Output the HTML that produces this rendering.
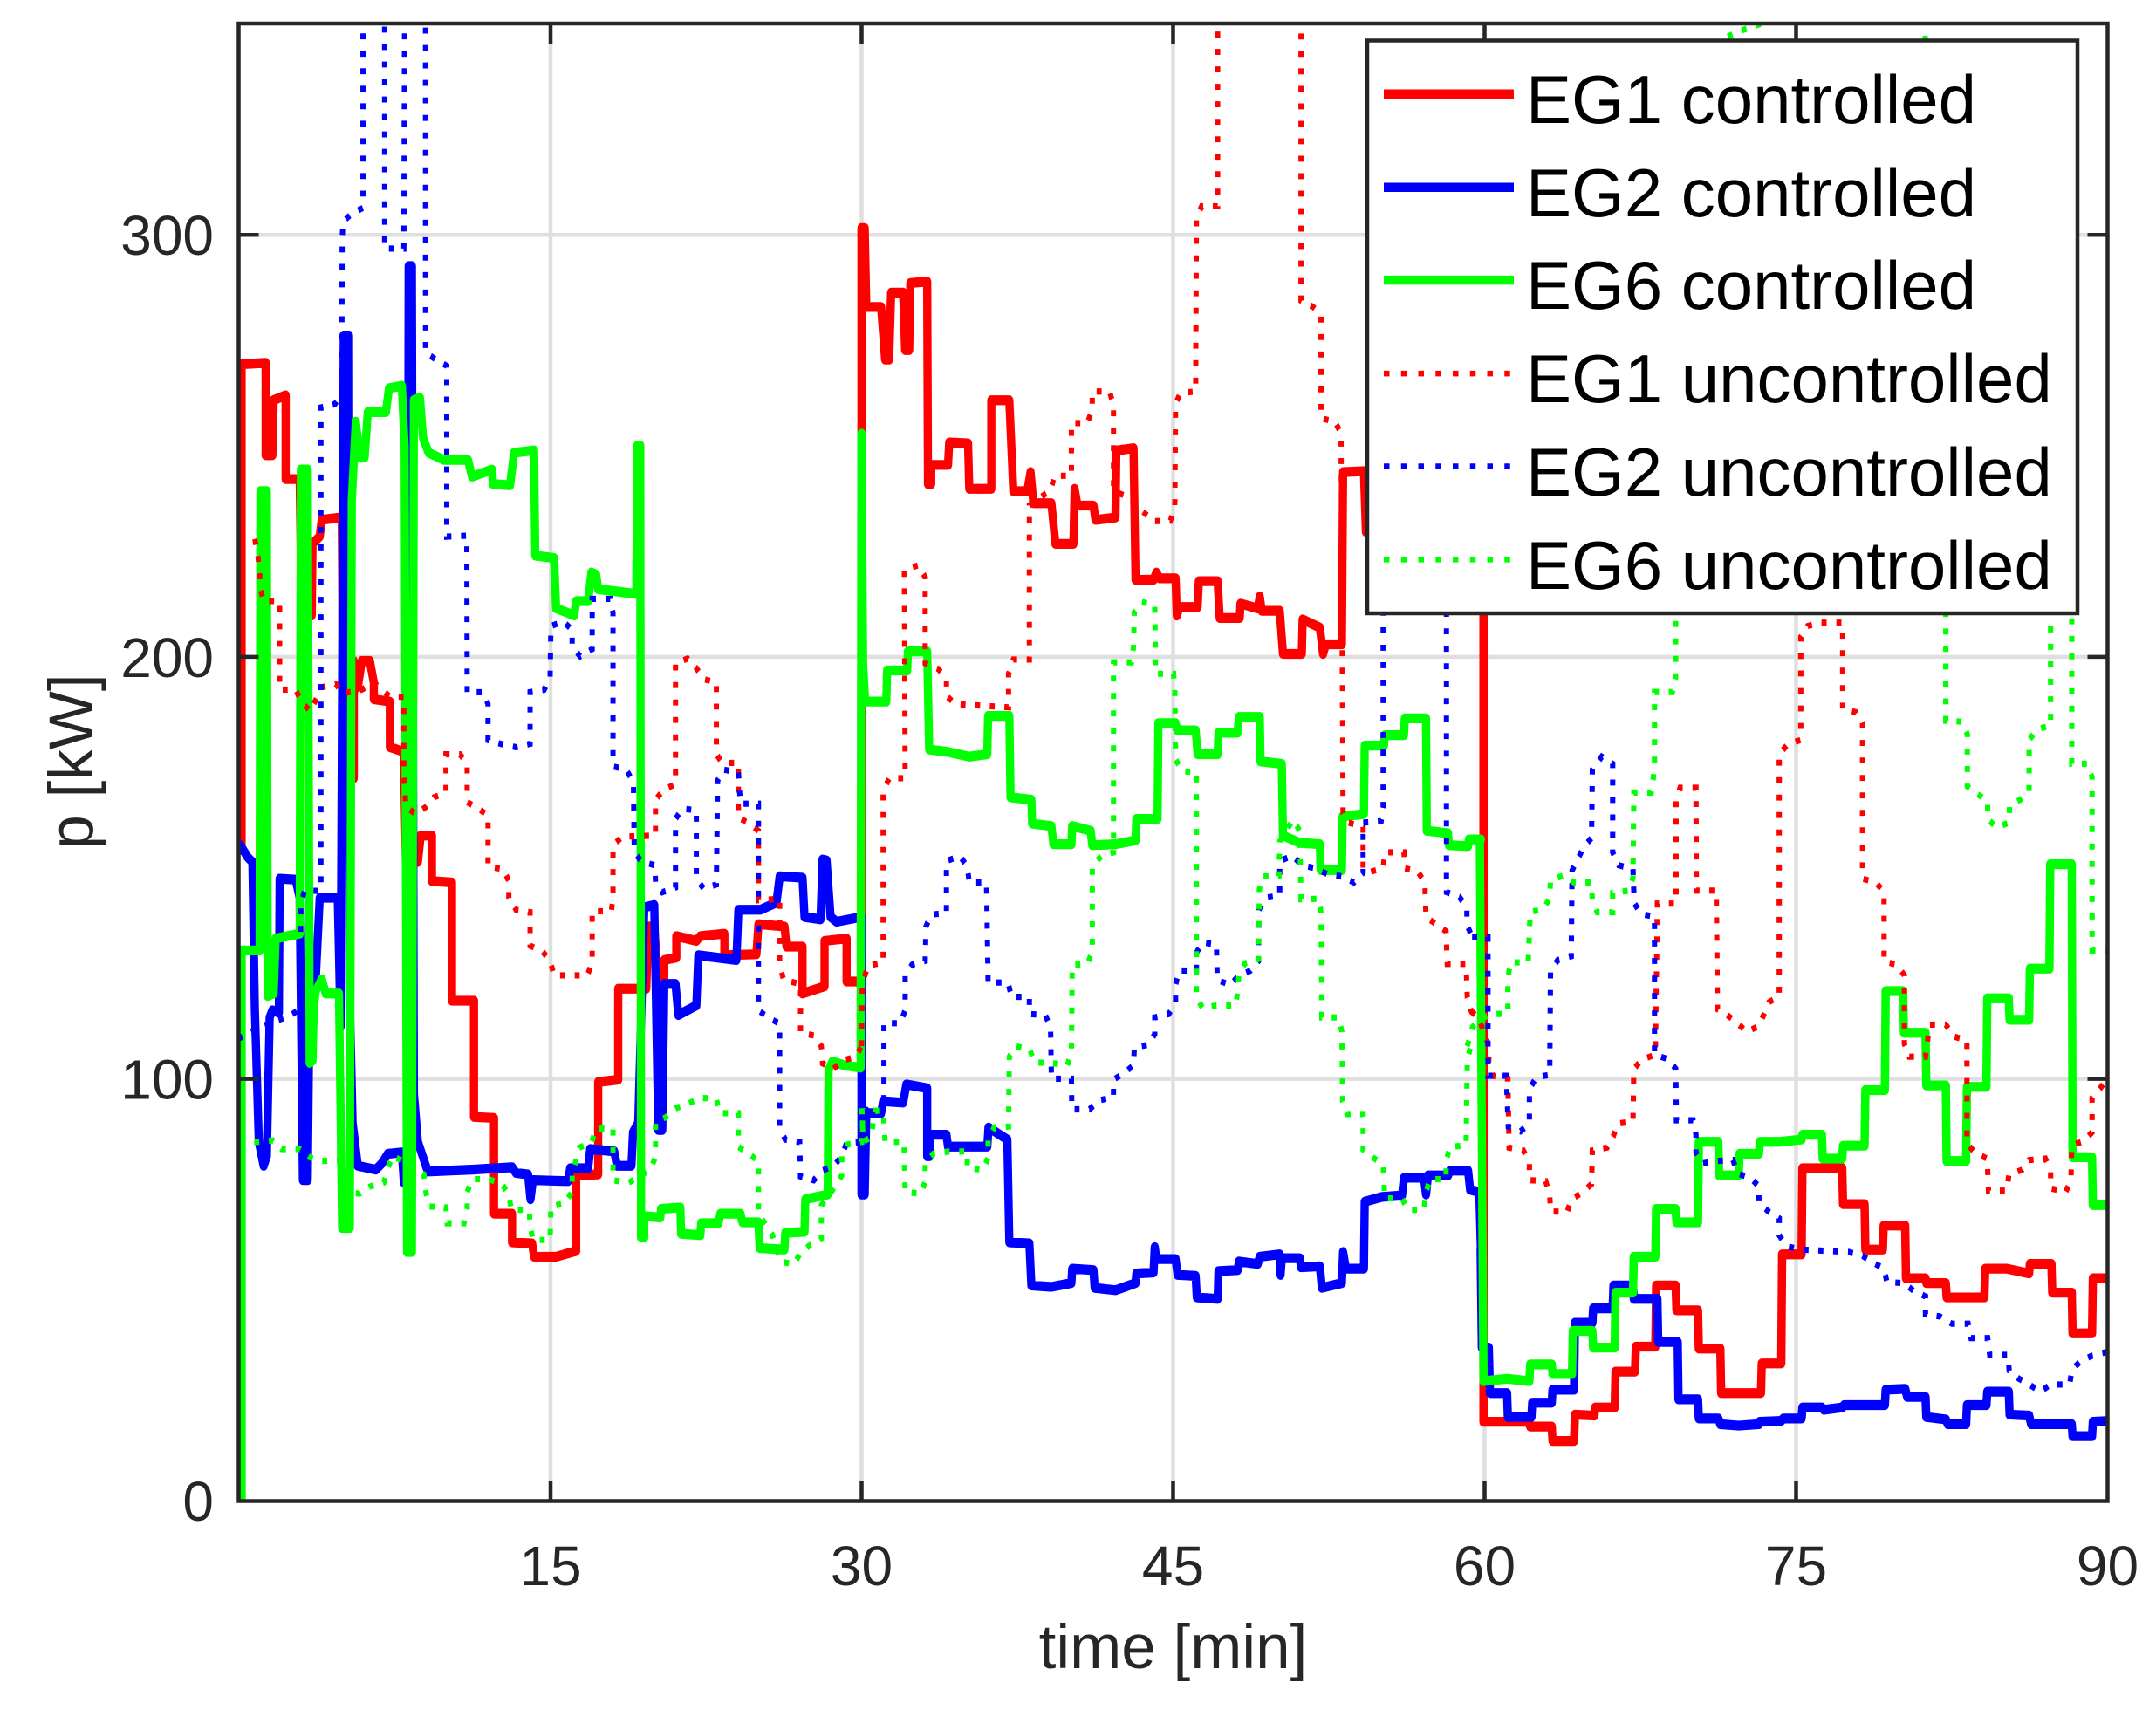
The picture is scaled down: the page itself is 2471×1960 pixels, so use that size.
<!DOCTYPE html>
<html><head><meta charset="utf-8"><style>
html,body{margin:0;padding:0;background:#fff;}
svg{display:block;}
text{font-family:"Liberation Sans",Arial,Helvetica,sans-serif;}
</style></head><body>
<svg xmlns="http://www.w3.org/2000/svg" width="2471" height="1960" viewBox="0 0 2471 1960">
<rect width="2471" height="1960" fill="#fff"/>
<defs><clipPath id="c"><rect x="273.5" y="27" width="2142" height="1693.5"/></clipPath></defs>
<g stroke="#dfdfdf" stroke-width="4.5">
<line x1="631" y1="27" x2="631" y2="1720"/>
<line x1="987.5" y1="27" x2="987.5" y2="1720"/>
<line x1="1344.5" y1="27" x2="1344.5" y2="1720"/>
<line x1="1701.5" y1="27" x2="1701.5" y2="1720"/>
<line x1="2058.5" y1="27" x2="2058.5" y2="1720"/>
<line x1="273.5" y1="1236.6" x2="2415.5" y2="1236.6"/>
<line x1="273.5" y1="752.9" x2="2415.5" y2="752.9"/>
<line x1="273.5" y1="269.2" x2="2415.5" y2="269.2"/>
</g>
<g clip-path="url(#c)" fill="none">
<!-- EG1 controlled -->
<g stroke="#ff0000" stroke-width="20.5" stroke-linejoin="round" stroke-linecap="round">
<path transform="translate(270,870) scale(0.4592,0.5485)" d="M15,190 L15,-825 L75,-828 L75,-635 L92,-635 L95,-750 L125,-760 L125,-585 L160,-585 L165,-300 L190,-300 L192,-450 L210,-465 L215,-500 L265,-505 L270,40 L295,40 L295,-205 L305,-150 L315,-205 L335,-205 L345,-160 L345,-125 L385,-120 L385,-25 L420,-15 L425,210 L455,215 L462,160 L490,160 L490,255 L540,258 L540,505 L595,505 L595,748 L645,750 L645,950 L690,950 L690,1010 L740,1012 L745,1040 L800,1040 L850,1028 L850,870 L905,868 L905,675 L955,670 L955,480 L1025,480 L1030,350 L1045,350 L1055,470 L1070,470 L1070,420 L1100,415 L1100,370 L1150,380 L1160,370 L1220,365 L1220,410 L1300,408 L1305,345 L1370,350 L1375,392 L1415,392 L1415,490 L1470,475 L1470,380 L1525,375 L1525,465 L1562,465"/>
<path transform="translate(980,20) scale(0.4592,0.5485)" d="M16,2015 L16,440 L24,440 L28,605 L65,605 L75,715 L85,715 L90,575 L120,575 L125,695 L135,695 L138,555 L180,552 L182,975 L190,975 L190,935 L232,935 L235,888 L282,890 L285,985 L340,985 L340,800 L385,800 L395,990 L430,990 L438,950 L445,1015 L490,1015 L500,1100 L545,1100 L548,985 L555,1020 L595,1020 L600,1050 L650,1045 L652,905 L695,900 L700,1175 L745,1175 L752,1160 L760,1172 L800,1172 L803,1250 L810,1232 L855,1232 L858,1178 L905,1178 L910,1255 L960,1255 L962,1225 L1005,1235 L1010,1210 L1015,1240 L1060,1240 L1068,1330 L1115,1330 L1117,1258 L1160,1275 L1168,1330 L1175,1310 L1215,1310 L1218,950 L1270,948 L1275,1075 L1320,1080"/>
<path transform="translate(1690,870) scale(0.4656,0.5485)" d="M22,-300 L22,1385 L135,1385 L137,1395 L190,1395 L192,1425 L245,1425 L247,1370 L295,1372 L297,1355 L345,1355 L347,1280 L395,1280 L397,1228 L445,1228 L447,1100 L495,1100 L497,1152 L550,1152 L552,1232 L605,1232 L607,1325 L705,1325 L707,1263 L755,1263 L757,1035 L805,1035 L807,855 L905,855 L907,930 L960,930 L962,1025 L1005,1025 L1007,975 L1060,975 L1062,1085 L1110,1085 L1112,1095 L1160,1095 L1162,1125 L1255,1125 L1257,1065 L1310,1065 L1365,1075 L1367,1055 L1420,1055 L1422,1115 L1470,1115 L1472,1200 L1520,1200 L1522,1085 L1565,1085"/>
</g>
<!-- EG2 controlled -->
<g stroke="#0000ff" stroke-width="20.5" stroke-linejoin="round" stroke-linecap="round">
<path transform="translate(270,870) scale(0.4592,0.5485)" d="M12,180 L30,205 L42,215 L48,520 L58,800 L70,850 L78,830 L85,540 L92,525 L108,530 L110,250 L150,252 L160,290 L168,880 L180,880 L185,470 L200,460 L210,290 L255,290 L262,560 L270,-885 L283,-885 L285,500 L292,760 L305,850 L350,858 L365,845 L380,825 L415,822 L420,885 L428,885 L432,-1030 L440,-1030 L445,700 L455,800 L475,850 L480,862 L590,858 L690,853 L700,865 L730,868 L736,920 L742,880 L830,882 L835,855 L880,855 L885,815 L945,820 L952,850 L988,850 L992,780 L1005,760 L1020,310 L1045,305 L1055,775 L1065,775 L1070,470 L1098,470 L1105,535 L1150,515 L1155,410 L1250,420 L1255,315 L1310,315 L1350,300 L1358,245 L1415,248 L1420,330 L1460,335 L1465,210 L1475,212 L1485,330 L1500,340 L1562,330 L1562,500"/>
<path transform="translate(980,870) scale(0.4592,0.5485)" d="M16,330 L16,910 L24,910 L28,740 L65,740 L70,715 L120,718 L128,680 L180,688 L180,830 L186,830 L188,785 L228,785 L232,810 L330,810 L333,770 L380,795 L385,1010 L435,1012 L440,1100 L490,1103 L540,1095 L542,1065 L595,1068 L598,1105 L650,1110 L700,1095 L702,1075 L745,1073 L748,1020 L752,1045 L800,1045 L805,1078 L850,1080 L853,1125 L905,1128 L907,1070 L955,1068 L958,1050 L1005,1055 L1010,1040 L1060,1035 L1062,1078 L1065,1043 L1110,1043 L1113,1062 L1160,1060 L1165,1105 L1215,1095 L1218,1030 L1225,1065 L1270,1065 L1272,925 L1315,915 L1365,912 L1370,875 L1420,875 L1425,910 L1430,870 L1480,870 L1485,860 L1530,860 L1535,900 L1558,905 L1562,1025"/>
<path transform="translate(1690,870) scale(0.4656,0.5485)" d="M15,1025 L18,1230 L35,1230 L38,1325 L80,1325 L82,1375 L140,1375 L142,1345 L190,1345 L192,1318 L245,1318 L247,1178 L290,1178 L292,1148 L340,1148 L342,1100 L390,1100 L392,1128 L450,1128 L452,1218 L500,1218 L502,1338 L550,1338 L552,1378 L600,1378 L605,1390 L650,1393 L700,1390 L702,1385 L755,1383 L760,1378 L805,1378 L807,1355 L855,1355 L860,1360 L905,1355 L910,1350 L1010,1350 L1012,1318 L1060,1316 L1065,1333 L1110,1333 L1112,1375 L1160,1380 L1165,1390 L1210,1390 L1212,1350 L1260,1350 L1262,1322 L1315,1322 L1317,1370 L1365,1372 L1370,1390 L1470,1390 L1472,1415 L1520,1415 L1522,1385 L1565,1383"/>
</g>
<!-- EG6 controlled -->
<g stroke="#00ff00" stroke-width="20.5" stroke-linejoin="round" stroke-linecap="round">
<path transform="translate(270,870) scale(0.4592,0.5485)" d="M15,1550 L15,400 L60,400 L62,-560 L78,-560 L80,495 L95,490 L100,375 L160,365 L163,-605 L180,-605 L185,635 L192,630 L195,520 L200,485 L215,460 L225,490 L258,490 L266,980 L285,980 L290,-540 L300,-705 L310,-630 L322,-630 L330,-725 L375,-725 L383,-775 L415,-780 L422,-650 L428,1030 L440,1030 L445,-750 L460,-755 L468,-670 L482,-640 L495,-635 L520,-625 L580,-625 L590,-590 L640,-605 L642,-575 L685,-572 L695,-640 L745,-645 L748,-425 L795,-420 L800,-315 L845,-300 L850,-330 L880,-330 L888,-390 L900,-385 L905,-355 L1000,-345 L1003,-655 L1010,-655 L1012,1000 L1020,1000 L1020,955 L1060,958 L1062,940 L1110,937 L1112,992 L1160,995 L1162,970 L1205,970 L1210,950 L1260,950 L1265,968 L1305,968 L1308,1022 L1370,1025 L1372,990 L1420,988 L1422,920 L1478,910 L1480,650 L1490,632 L1520,640 L1560,645 L1562,-680"/>
<path transform="translate(980,870) scale(0.4592,0.5485)" d="M16,-680 L20,-200 L25,-120 L78,-120 L80,-185 L130,-185 L132,-225 L180,-225 L185,-20 L230,-15 L285,-5 L330,-10 L332,-90 L385,-90 L388,80 L440,85 L442,135 L490,140 L495,178 L540,178 L542,140 L588,150 L592,180 L650,178 L700,170 L702,125 L755,125 L757,-75 L800,-75 L805,-60 L850,-60 L855,-10 L905,-10 L907,-55 L955,-55 L958,-88 L1010,-88 L1012,5 L1065,10 L1068,160 L1110,175 L1160,178 L1162,232 L1215,232 L1217,120 L1270,115 L1272,-28 L1320,-28 L1322,-50 L1370,-50 L1372,-85 L1425,-85 L1427,150 L1480,155 L1482,180 L1530,182 L1532,168 L1562,168"/>
<path transform="translate(1690,870) scale(0.4656,0.5485)" d="M13,168 L22,1300 L80,1295 L135,1300 L137,1265 L190,1265 L192,1285 L240,1285 L242,1195 L290,1195 L292,1230 L345,1230 L347,1115 L390,1115 L392,1040 L445,1040 L447,940 L495,940 L497,968 L550,968 L552,800 L600,800 L602,870 L650,870 L652,825 L700,825 L702,800 L750,800 L805,795 L807,785 L855,785 L857,835 L905,835 L907,808 L960,808 L962,692 L1010,692 L1012,485 L1055,485 L1057,572 L1110,572 L1112,682 L1160,682 L1162,840 L1210,840 L1212,685 L1260,685 L1262,500 L1315,500 L1317,545 L1365,545 L1367,438 L1415,438 L1417,220 L1470,220 L1472,832 L1520,832 L1522,932 L1565,932"/>
</g>
<!-- EG1 uncontrolled -->
<g stroke="#ff0000" stroke-width="13" stroke-dasharray="12.5 24" stroke-linejoin="miter">
<path transform="translate(270,870) scale(0.4592,0.5485)" d="M48,-460 L55,-430 L60,-390 L62,-355 L70,-330 L110,-330 L110,-145 L150,-145 L165,-118 L187,-100 L215,-150 L250,-157 L267,-137 L315,-145 L345,-160 L372,-140 L385,-130 L420,-130 L420,30 L425,100 L450,115 L475,100 L495,80 L525,70 L525,-10 L560,-10 L578,10 L578,90 L605,103 L630,118 L630,225 L668,230 L682,255 L682,290 L700,315 L735,320 L735,390 L766,402 L785,422 L795,452 L878,452 L890,425 L890,318 L938,318 L942,290 L942,180 L966,162 L1048,160 L1048,85 L1068,65 L1098,52 L1098,-200 L1128,-210 L1150,-190 L1168,-167 L1200,-160 L1200,-10 L1215,8 L1255,8 L1255,122 L1282,135 L1305,150 L1305,295 L1358,292 L1358,430 L1368,462 L1410,470 L1410,572 L1445,578 L1462,600 L1465,636 L1492,648 L1515,630 L1548,622 L1562,600"/>
<path transform="translate(980,870) scale(0.4592,0.5485)" d="M16,600 L18,470 L32,432 L70,425 L70,68 L85,40 L125,40 L123,-395 L158,-405 L175,-380 L175,-200 L208,-188 L228,-168 L228,-132 L250,-115 L383,-108 L383,-178 L395,-208 L435,-208 L435,-530 L488,-562 L498,-592 L540,-592 L540,-702 L580,-702 L592,-732 L592,-768 L635,-768 L645,-740 L645,-560 L675,-550 L745,-497 L787,-498 L798,-525 L800,-742 L812,-765 L850,-768 L852,-1130 L865,-1155 L905,-1155 L905,-1700 L1113,-1700 L1113,-958 L1143,-945 L1163,-928 L1163,-712 L1198,-705 L1213,-680 L1218,113 L1232,133 L1268,142 L1268,230 L1285,236 L1318,228 L1322,195 L1370,195 L1372,228 L1405,236 L1422,258 L1425,330 L1450,345 L1475,360 L1478,428 L1525,428 L1528,498 L1538,527 L1550,535"/>
<path transform="translate(1690,870) scale(0.4656,0.5485)" d="M-9,527 L10,540 L35,600 L35,635 L45,662 L82,668 L85,812 L120,818 L135,842 L135,880 L175,882 L185,910 L187,945 L228,947 L238,920 L265,906 L288,888 L290,818 L326,812 L342,787 L352,762 L390,757 L392,648 L412,628 L445,618 L450,302 L496,302 L496,85 L506,60 L545,60 L546,275 L595,275 L598,523 L625,537 L648,553 L670,570 L700,558 L725,508 L750,495 L750,-10 L770,-30 L803,-40 L803,-255 L820,-278 L852,-285 L906,-285 L906,-105 L938,-98 L955,-75 L955,250 L988,258 L1008,278 L1008,423 L1040,430 L1058,452 L1058,595 L1070,622 L1110,622 L1120,555 L1160,555 L1180,580 L1212,588 L1212,803 L1232,823 L1262,835 L1265,902 L1310,902 L1315,870 L1348,858 L1365,838 L1405,835 L1418,862 L1418,897 L1455,905 L1468,880 L1470,808 L1500,798 L1520,780 L1520,708 L1540,688 L1565,660"/>
</g>
<!-- EG2 uncontrolled -->
<g stroke="#0000ff" stroke-width="13" stroke-dasharray="12.5 24">
<path transform="translate(270,20) scale(0.4592,0.5485)" d="M5,2132 L12,2132 L60,2110 L138,2085 L160,2072 L163,1853 L172,1825 L213,1825 L213,815 L248,808 L265,785 L266,463 L268,427 L290,410 L318,398 L318,-50 L372,-50 L372,483 L420,483 L422,-50 L474,-50 L474,700 L500,715 L527,728 L527,1085 L577,1083 L578,1410 L618,1410 L630,1435 L630,1510 L662,1518 L700,1525 L735,1518 L735,1410 L770,1405 L785,1380 L787,1272 L818,1262 L840,1280 L840,1315 L860,1335 L890,1320 L890,1215 L935,1215 L942,1245 L942,1565 L975,1572 L993,1598 L995,1743 L1012,1763 L1047,1772 L1048,1807 L1065,1828 L1098,1818 L1098,1675 L1115,1653 L1150,1657 L1150,1800 L1168,1820 L1200,1812 L1203,1595 L1218,1572 L1255,1577 L1260,1643 L1305,1643 L1305,2075 L1330,2090 L1358,2103 L1358,2319 L1372,2345 L1408,2350 L1410,2422 L1443,2430 L1463,2410 L1493,2400 L1513,2380 L1525,2352 L1562,2350"/>
<path transform="translate(980,870) scale(0.4592,0.5485)" d="M14,800 L17,730 L35,735 L72,735 L72,552 L113,552 L125,525 L125,452 L142,430 L175,422 L177,350 L190,325 L228,322 L228,213 L262,203 L280,225 L285,258 L328,258 L332,467 L382,467 L390,497 L435,497 L435,533 L475,535 L488,562 L490,668 L540,668 L541,732 L585,732 L610,713 L645,707 L645,670 L670,657 L695,640 L697,603 L732,597 L748,575 L748,540 L783,533 L800,508 L800,472 L808,442 L852,442 L852,405 L867,383 L902,388 L904,462 L937,472 L955,455 L987,442 L1007,422 L1008,315 L1025,290 L1060,285 L1060,213 L1092,202 L1115,222 L1147,228 L1178,240 L1215,245 L1245,258 L1268,238 L1268,133 L1313,130 L1318,100 L1318,-700 L1476,-700 L1476,278 L1508,288 L1527,310 L1527,346 L1540,372"/>
<path transform="translate(1690,870) scale(0.4656,0.5485)" d="M-6,372 L33,372 L33,662 L78,662 L83,768 L113,778 L135,762 L135,690 L152,665 L185,660 L187,442 L205,420 L238,412 L240,233 L268,185 L288,165 L290,22 L313,-5 L340,10 L340,195 L355,222 L390,230 L393,300 L408,323 L443,330 L443,618 L476,627 L495,647 L497,755 L538,755 L545,785 L545,822 L560,845 L597,840 L636,838 L648,866 L680,876 L700,893 L700,928 L723,945 L750,960 L750,995 L768,1018 L803,1025 L920,1030 L955,1038 L980,1052 L1008,1065 L1015,1093 L1057,1095 L1082,1112 L1110,1123 L1110,1160 L1146,1165 L1175,1180 L1215,1180 L1222,1210 L1263,1210 L1268,1245 L1313,1245 L1316,1278 L1340,1295 L1365,1307 L1393,1322 L1418,1307 L1465,1307 L1470,1277 L1493,1257 L1520,1247 L1565,1237"/>
</g>
<!-- EG6 uncontrolled -->
<g stroke="#00ff00" stroke-width="13" stroke-dasharray="12.5 24">
<path transform="translate(270,870) scale(0.4592,0.5485)" d="M10,800 L55,800 L93,797 L115,815 L160,815 L185,832 L215,840 L260,838 L265,905 L310,908 L336,893 L370,885 L390,830 L420,840 L470,868 L475,905 L483,935 L525,937 L528,970 L570,970 L578,940 L578,905 L590,878 L632,878 L665,888 L682,910 L688,942 L733,942 L735,975 L742,1005 L785,1005 L787,935 L823,928 L840,903 L840,868 L858,812 L888,802 L900,772 L942,772 L942,880 L980,886 L1035,858 L1048,832 L1048,760 L1075,748 L1098,730 L1130,720 L1160,708 L1200,710 L1208,740 L1255,740 L1255,810 L1280,825 L1305,840 L1305,950 L1340,995 L1360,1050 L1393,1056 L1410,1032 L1433,1016 L1462,1003 L1462,933 L1488,903 L1513,870 L1513,830 L1528,805 L1563,800 L1566,730"/>
<path transform="translate(980,870) scale(0.4592,0.5485)" d="M17,730 L20,800 L40,790 L50,735 L70,735 L75,800 L122,800 L125,905 L165,908 L175,882 L175,845 L195,825 L235,820 L280,820 L280,855 L320,858 L332,833 L332,797 L347,770 L383,768 L385,622 L400,600 L436,607 L448,634 L488,635 L530,640 L540,612 L542,430 L580,428 L592,402 L592,222 L615,203 L645,195 L645,-202 L690,-202 L695,-235 L697,-307 L715,-328 L748,-322 L750,-178 L795,-178 L798,-145 L800,0 L815,25 L852,28 L852,497 L867,520 L902,515 L950,515 L955,485 L958,450 L973,427 L1007,418 L1009,273 L1017,245 L1058,245 L1060,172 L1093,127 L1110,150 L1113,293 L1158,292 L1163,322 L1165,540 L1207,540 L1215,570 L1217,715 L1228,742 L1268,742 L1268,816 L1292,832 L1318,848 L1322,918 L1365,918 L1380,942 L1420,942 L1425,905 L1435,878 L1475,878 L1475,840 L1485,810 L1525,808 L1528,628 L1540,590"/>
<path transform="translate(1690,870) scale(0.4656,0.5485)" d="M-18,600 L-5,560 L10,545 L42,533 L82,532 L82,460 L88,425 L132,425 L137,320 L170,313 L185,290 L187,253 L220,243 L245,258 L288,258 L290,295 L302,320 L340,320 L340,280 L380,275 L390,248 L392,70 L435,70 L440,40 L443,5 L443,-140 L487,-140 L495,-170 L495,-900 L560,-1480 L620,-1508 L648,-1520 L700,-1535 L720,-1620 L1100,-1620 L1160,-900 L1160,-80 L1200,-78 L1213,-52 L1213,57 L1237,73 L1263,87 L1263,125 L1285,143 L1315,133 L1317,98 L1343,85 L1365,68 L1365,-40 L1385,-62 L1418,-70 L1418,-600 L1470,-600 L1470,10 L1508,10 L1520,38 L1520,400 L1565,400"/>
</g>
</g>
<!-- axes frame and ticks -->
<g stroke="#262626" stroke-width="4.5" fill="none">
<rect x="273.5" y="27" width="2142" height="1693.5"/>
<path d="M631,1720 V1697 M987.5,1720 V1697 M1344.5,1720 V1697 M1701.5,1720 V1697 M2058.5,1720 V1697 M631,27 V50 M987.5,27 V50 M1344.5,27 V50 M1701.5,27 V50 M2058.5,27 V50 M273.5,1236.6 H296.5 M273.5,752.9 H296.5 M273.5,269.2 H296.5 M2415.5,1236.6 H2392.5 M2415.5,752.9 H2392.5 M2415.5,269.2 H2392.5"/>
</g>
<g fill="#262626" font-size="64">
<text x="245" y="1743" text-anchor="end">0</text>
<text x="245" y="1259.6" text-anchor="end">100</text>
<text x="245" y="775.9" text-anchor="end">200</text>
<text x="245" y="292.2" text-anchor="end">300</text>
<text x="631" y="1817" text-anchor="middle">15</text>
<text x="987.5" y="1817" text-anchor="middle">30</text>
<text x="1344.5" y="1817" text-anchor="middle">45</text>
<text x="1701.5" y="1817" text-anchor="middle">60</text>
<text x="2058.5" y="1817" text-anchor="middle">75</text>
<text x="2415.5" y="1817" text-anchor="middle">90</text>
</g>
<text x="1344.5" y="1912" text-anchor="middle" font-size="71" fill="#262626">time [min]</text>
<text transform="translate(106,873) rotate(-90)" text-anchor="middle" font-size="71" fill="#262626">p [kW]</text>
<!-- legend -->
<rect x="1567" y="46.5" width="814" height="656.5" fill="#fff" stroke="#262626" stroke-width="4.5"/>
<g fill="none">
<line x1="1586" y1="107.8" x2="1735" y2="107.8" stroke="#ff0000" stroke-width="10.5"/>
<line x1="1586" y1="214.7" x2="1735" y2="214.7" stroke="#0000ff" stroke-width="10.5"/>
<line x1="1586" y1="321.1" x2="1735" y2="321.1" stroke="#00ff00" stroke-width="10.5"/>
<line x1="1586" y1="428.1" x2="1735" y2="428.1" stroke="#ff0000" stroke-width="6.5" stroke-dasharray="6.5 13.25"/>
<line x1="1586" y1="534.5" x2="1735" y2="534.5" stroke="#0000ff" stroke-width="6.5" stroke-dasharray="6.5 13.25"/>
<line x1="1586" y1="641.4" x2="1735" y2="641.4" stroke="#00ff00" stroke-width="6.5" stroke-dasharray="6.5 13.25"/>
</g>
<g fill="#000" font-size="78">
<text x="1749" y="141">EG1 controlled</text>
<text x="1749" y="248">EG2 controlled</text>
<text x="1749" y="354">EG6 controlled</text>
<text x="1749" y="461">EG1 uncontrolled</text>
<text x="1749" y="568">EG2 uncontrolled</text>
<text x="1749" y="675">EG6 uncontrolled</text>
</g>
</svg>
</body></html>
